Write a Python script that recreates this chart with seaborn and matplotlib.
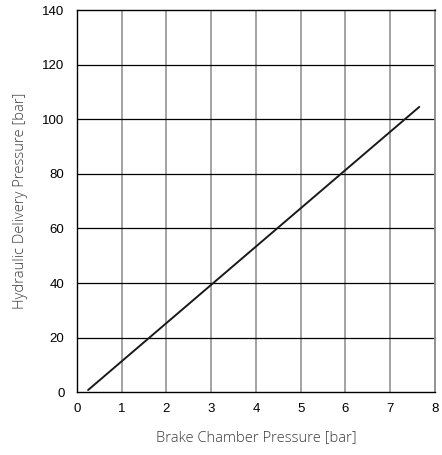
import seaborn as sns
import matplotlib.pyplot as plt
import pandas as pd

# values
brake_chamber = [0.25, 7.65]
hydraulic_delivery = [0.8, 104.5]
x_ticks = [0, 1, 2, 3, 4, 5, 6, 7, 8]
y_ticks = [0, 20, 40, 60, 80, 100, 120, 140]

df = pd.DataFrame({"brake": brake_chamber, "hydraulic": hydraulic_delivery})

sns.set_style("white")
plt.rcParams["font.family"] = ["Liberation Sans", "DejaVu Sans"]

fig = plt.figure(figsize=(4.42, 4.55), dpi=100)
ax = fig.add_axes([0.174, 0.138, 0.81, 0.84])

# vertical grid grey, horizontal grid black
for x in x_ticks[1:-1]:
    ax.axvline(x, color="#8a8a8a", lw=1.1, zorder=1)
for y in y_ticks[1:-1]:
    ax.axhline(y, color="black", lw=0.9, zorder=1)

sns.lineplot(data=df, x="brake", y="hydraulic", color="#1a1a1a", lw=1.4, ax=ax, zorder=3)

ax.set_xlim(0, 8)
ax.set_ylim(0, 140)
ax.set_xticks(x_ticks)
ax.set_xticklabels(["0", "1", "2", "3", "4", "5", "6", "7", "8"])
ax.set_yticks(y_ticks)
ax.tick_params(length=0, labelsize=9.5, colors="black", pad=8)
ax.tick_params(axis="y", pad=9)

for s in ax.spines.values():
    s.set_color("black")
    s.set_linewidth(1.0)
ax.spines["right"].set_color("#8a8a8a")
ax.spines["right"].set_linewidth(1.3)

lab = dict(family=["Open Sans", "DejaVu Sans"], fontweight="light", fontsize=10.6, color="#3a3a3a")
ax.set_xlabel("Brake Chamber Pressure [bar]", labelpad=11, **lab)
ax.set_ylabel("Hydraulic Delivery Pressure [bar]", labelpad=10, **lab)

fig.savefig("out.png", dpi=100)
